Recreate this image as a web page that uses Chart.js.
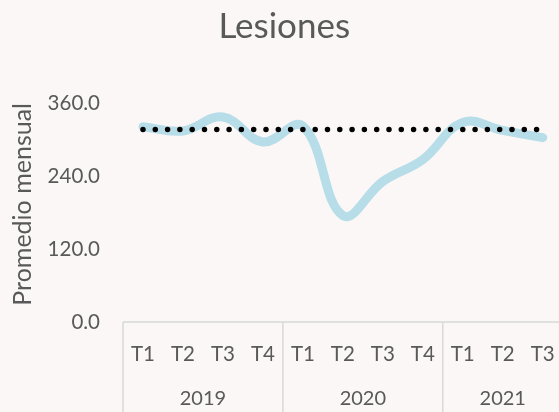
<!DOCTYPE html>
<html>
<head>
<meta charset="utf-8">
<script src="https://cdn.jsdelivr.net/npm/chart.js@4"></script>
<style>
    html, body { margin: 0; padding: 0; background: #faf7f6; overflow: hidden; }
    #wrap { width: 559px; height: 412px; overflow: hidden; }
</style>
</head>
<body>
<div id="wrap"><canvas id="lesionesChart" width="575" height="412"></canvas></div>
<script>
// Chart data
const quarters = ['T1', 'T2', 'T3', 'T4', 'T1', 'T2', 'T3', 'T4', 'T1', 'T2', 'T3'];
const years = ['2019', '2020', '2021'];
const quartersPerYear = [4, 4, 3];
const monthlyAvg = [321, 314, 337, 296, 322, 175, 231, 267, 328, 315, 303];
const referenceLine = [316.5, 316.5, 316.5, 316.5, 316.5, 316.5, 316.5, 316.5, 316.5, 316.5, 316.5];
const yTicks = [0, 120, 240, 360];

const textColor = '#595959';
const boxColor = '#d9d9d9';
const fontFamily = 'Lato, "Open Sans", sans-serif';

// Background + grouped category box with year labels
const groupAxis = {
    id: 'groupAxis',
    beforeDraw(chart) {
        const c = chart.ctx;
        c.save();
        c.fillStyle = '#faf7f6';
        c.fillRect(0, 0, chart.width, chart.height);
        c.restore();
    },
    afterDraw(chart) {
        const c = chart.ctx;
        const x = chart.scales.x;
        const area = chart.chartArea;
        const step = x.getPixelForValue(1) - x.getPixelForValue(0);
        c.save();
        c.strokeStyle = boxColor;
        c.lineWidth = 1.5;
        c.beginPath();
        c.moveTo(area.left, area.bottom);
        c.lineTo(area.left + step * quarters.length, area.bottom);
        let idx = 0;
        const bounds = [idx];
        quartersPerYear.forEach(n => { idx += n; bounds.push(idx); });
        bounds.forEach(b => {
            const px = x.getPixelForValue(0) - step / 2 + b * step;
            c.moveTo(px, area.bottom);
            c.lineTo(px, chart.height);
        });
        c.stroke();

        c.fillStyle = textColor;
        c.font = '20px ' + fontFamily;
        c.textAlign = 'center';
        c.textBaseline = 'middle';
        years.forEach((yr, i) => {
            const mid = x.getPixelForValue(0) - step / 2 + (bounds[i] + bounds[i + 1]) / 2 * step;
            c.fillText(yr, mid, area.bottom + 77);
        });
        c.restore();
    }
};

new Chart(document.getElementById('lesionesChart'), {
    type: 'line',
    data: {
        labels: quarters,
        datasets: [{
            label: 'Referencia',
            data: referenceLine,
            borderColor: '#000000',
            borderWidth: 5.5,
            borderDash: [0, 12.3],
            borderCapStyle: 'round',
            pointRadius: 0,
            tension: 0,
            order: 0
        }, {
            label: 'Promedio mensual',
            data: monthlyAvg,
            borderColor: '#b7dde8',
            borderWidth: 9,
            borderCapStyle: 'round',
            pointRadius: 0,
            tension: 0.4,
            order: 1
        }]
    },
    options: {
        responsive: false,
        animation: false,
        devicePixelRatio: 1,
        layout: { padding: { left: 0, right: 6.5, top: 0, bottom: 0 } },
        scales: {
            y: {
                min: 0,
                max: 360,
                afterBuildTicks: scale => { scale.ticks = yTicks.map(v => ({ value: v })); },
                afterFit: scale => { scale.width = 123; },
                grid: { display: false, drawTicks: false },
                border: { display: false },
                ticks: {
                    padding: 23,
                    color: textColor,
                    font: { size: 20.5, family: fontFamily },
                    callback: v => Number(v).toFixed(1)
                },
                title: {
                    display: true,
                    text: 'Promedio mensual',
                    align: 'end',
                    color: textColor,
                    font: { size: 25, family: fontFamily },
                    padding: { top: 8, bottom: 0 }
                }
            },
            x: {
                offset: true,
                afterFit: scale => { scale.height = 90; },
                grid: { display: false, drawTicks: false },
                border: { display: false },
                ticks: {
                    padding: 20,
                    maxRotation: 0,
                    autoSkip: false,
                    color: textColor,
                    font: { size: 20.5, family: fontFamily }
                }
            }
        },
        plugins: {
            legend: { display: false },
            tooltip: { enabled: false },
            title: {
                display: true,
                text: 'Lesiones',
                color: textColor,
                font: { size: 35, family: fontFamily, weight: 'normal' },
                padding: { top: 6, bottom: 55 }
            }
        }
    },
    plugins: [groupAxis]
});
</script>
</body>
</html>
